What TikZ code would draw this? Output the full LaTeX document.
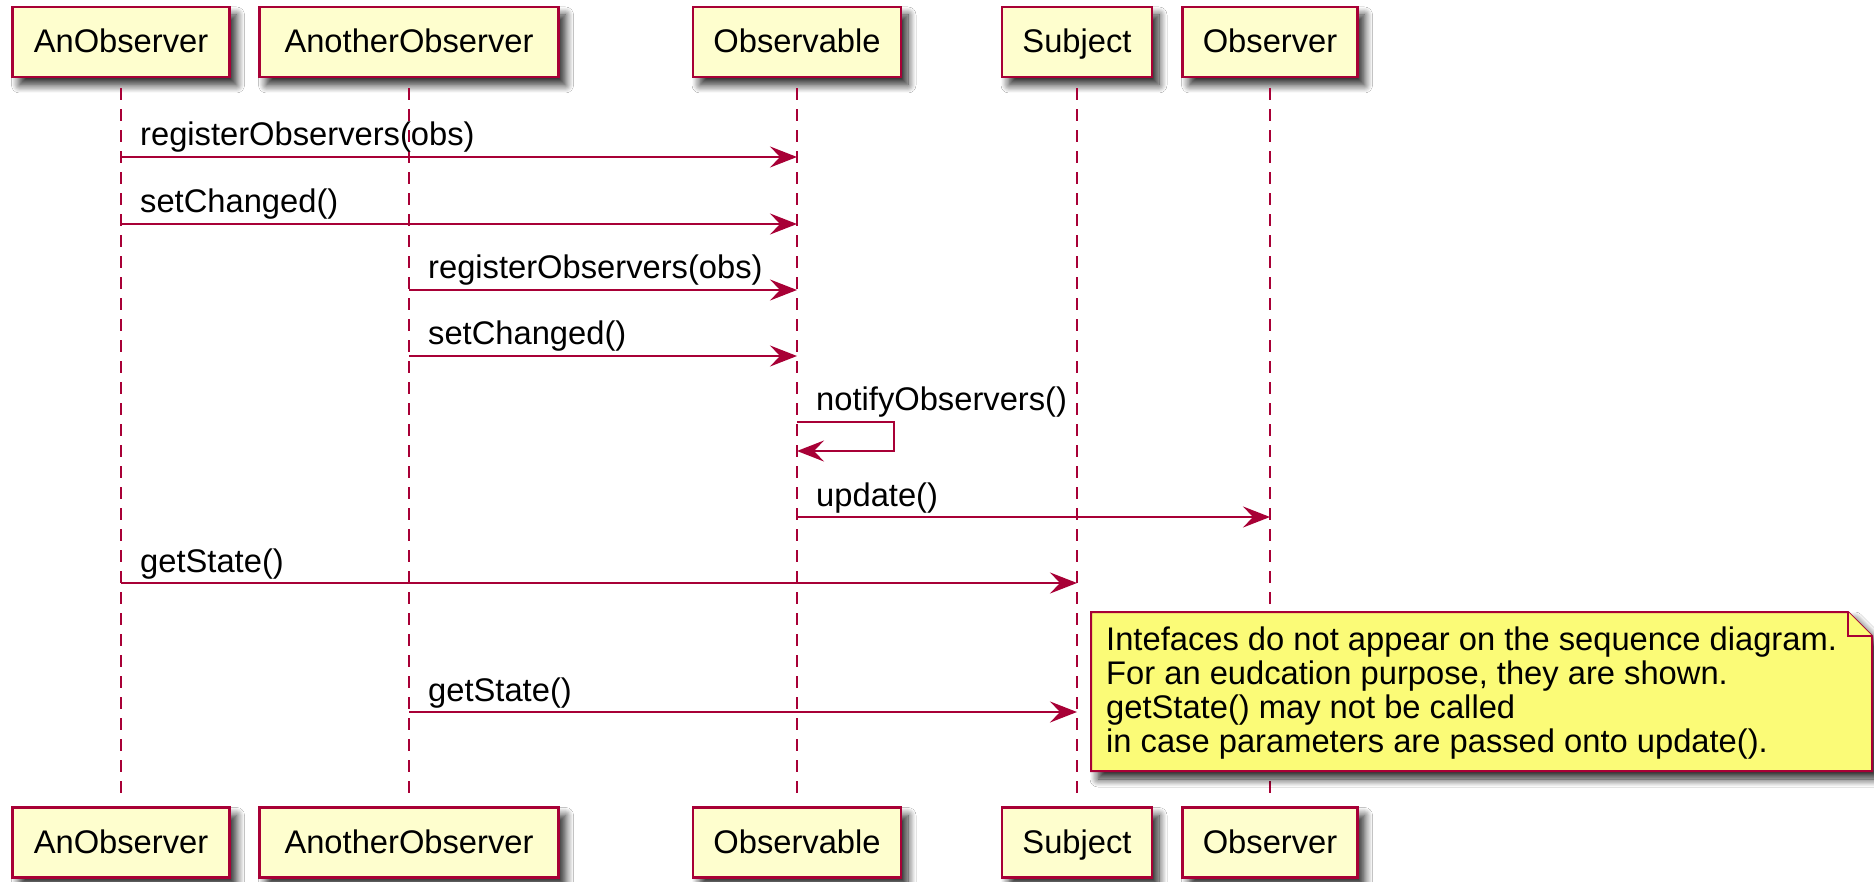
\documentclass[tikz,border=0pt]{standalone}
\usepackage{fontspec}
\setmainfont{Liberation Sans}
\usetikzlibrary{arrows.meta,shadows.blur,calc}
\definecolor{umlred}{HTML}{A80036}
\definecolor{partfill}{HTML}{FEFECE}
\definecolor{notefill}{HTML}{FBFB77}
\begin{document}
\begin{tikzpicture}[x=1pt,y=-1pt,
  txt/.style={font=\fontsize{32.7}{34}\selectfont, text=black},
  shadowed/.style={blur shadow={shadow xshift=7pt, shadow yshift=-8pt, shadow blur radius=8pt, shadow blur steps=10, shadow opacity=85}},
  part/.style={txt, draw=umlred, line width=2.8pt, fill=partfill, minimum height=70pt,
    inner sep=0pt, text height=23.5pt, text depth=1.5pt, shadowed},
  lifeline/.style={draw=umlred, line width=2.4pt, dash pattern=on 12pt off 9pt},
  msg/.style={draw=umlred, line width=2.2pt, -{Stealth[length=27pt, width=21pt, inset=10pt]}},
  selfmsg/.style={draw=umlred, line width=2.2pt, -{Stealth[length=27pt, width=21pt, inset=10pt]}},
  lbl/.style={txt, inner sep=0pt, anchor=base west},
  notebody/.style={draw=umlred, line width=2pt, fill=notefill, line join=miter, shadowed},
  notefold/.style={draw=umlred, line width=2pt, fill=notefill},
]
\useasboundingbox (0,0) rectangle (1874,882);
\fill[white] (0,0) rectangle (1874,882);

% participants (top)
\node[part, minimum width=217pt] (At) at (121,42) {AnObserver};
\node[part, minimum width=299pt] (Bt) at (409,42) {AnotherObserver};
\node[part, minimum width=208pt] (Ct) at (797,42) {Observable};
\node[part, minimum width=150pt] (Dt) at (1077,42) {Subject};
\node[part, minimum width=175pt] (Et) at (1270,42) {Observer};
% participants (bottom)
\node[part, minimum width=217pt] (Ab) at (121,842.5) {AnObserver};
\node[part, minimum width=299pt] (Bb) at (409,842.5) {AnotherObserver};
\node[part, minimum width=208pt] (Cb) at (797,842.5) {Observable};
\node[part, minimum width=150pt] (Db) at (1077,842.5) {Subject};
\node[part, minimum width=175pt] (Eb) at (1270,842.5) {Observer};

% lifelines
\draw[lifeline] ($(At.south)+(0,10)$) coordinate (Als) -- ($(Ab.north)+(0,-8)$) coordinate (Ale);
\draw[lifeline] ($(Bt.south)+(0,10)$) coordinate (Bls) -- ($(Bb.north)+(0,-8)$) coordinate (Ble);
\draw[lifeline] ($(Ct.south)+(0,10)$) coordinate (Cls) -- ($(Cb.north)+(0,-8)$) coordinate (Cle);
\draw[lifeline] ($(Dt.south)+(0,10)$) coordinate (Dls) -- ($(Db.north)+(0,-8)$) coordinate (Dle);
\draw[lifeline] ($(Et.south)+(0,10)$) coordinate (Els) -- ($(Eb.north)+(0,-8)$) coordinate (Ele);

% message end points on the lifelines
\coordinate (m1a) at (121,157);  \coordinate (m1b) at (797,157);
\coordinate (m2a) at (121,224);  \coordinate (m2b) at (797,224);
\coordinate (m3a) at (409,290);  \coordinate (m3b) at (797,290);
\coordinate (m4a) at (409,356);  \coordinate (m4b) at (797,356);
\coordinate (m5a) at (797,422);  \coordinate (m5r) at (894,422);
\coordinate (m5s) at (894,451);  \coordinate (m5b) at (797,451);
\coordinate (m6a) at (797,517);  \coordinate (m6b) at (1270,517);
\coordinate (m7a) at (121,583);  \coordinate (m7b) at (1077,583);
\coordinate (m8a) at (409,712);  \coordinate (m8b) at (1077,712);

\draw[msg] (m1a) -- (m1b);
\node[lbl] (l1) at ($(m1a)+(19,-11)$) {registerObservers(obs)};
\draw[msg] (m2a) -- (m2b);
\node[lbl] (l2) at ($(m2a)+(19,-11)$) {setChanged()};
\draw[msg] (m3a) -- (m3b);
\node[lbl] (l3) at ($(m3a)+(19,-11)$) {registerObservers(obs)};
\draw[msg] (m4a) -- (m4b);
\node[lbl] (l4) at ($(m4a)+(19,-11)$) {setChanged()};
\draw[selfmsg] (m5a) -- (m5r) -- (m5s) -- (m5b);
\node[lbl] (l5) at ($(m5a)+(19,-12)$) {notifyObservers()};
\draw[msg] (m6a) -- (m6b);
\node[lbl] (l6) at ($(m6a)+(19,-11)$) {update()};
\draw[msg] (m7a) -- (m7b);
\node[lbl] (l7) at ($(m7a)+(19,-11)$) {getState()};
\draw[msg] (m8a) -- (m8b);
\node[lbl] (l8) at ($(m8a)+(19,-11)$) {getState()};

% note
\coordinate (nw) at (1091,612);
\coordinate (nf) at (1848,612);
\coordinate (nr) at (1872,636);
\coordinate (nc) at (1848,636);
\coordinate (se) at (1872,771);
\coordinate (sw) at (1091,771);
\path[notebody] (nw) -- (nf) -- (nr) -- (se) -- (sw) -- cycle;
\path[notefold] (nf) -- (nc) -- (nr);
\node[txt, anchor=north west, inner sep=0pt, align=left] (note) at (1106,626.5)
  {Intefaces do not appear on the sequence diagram.\\
   For an eudcation purpose, they are shown.\\
   getState() may not be called\\
   in case parameters are passed onto update().};
\end{tikzpicture}
\end{document}
